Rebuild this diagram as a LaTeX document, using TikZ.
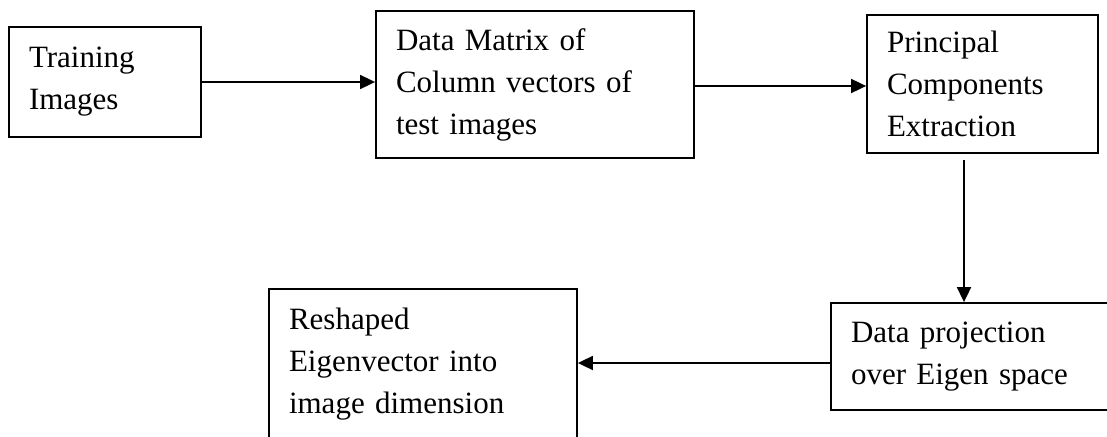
\documentclass[tikz,border=0pt]{standalone}
\usepackage{fontspec}
\setmainfont{Liberation Serif}
\usetikzlibrary{arrows.meta}

\begin{document}
\begin{tikzpicture}[x=1pt,y=1pt,
        stage/.style={draw, line width=1.8pt, align=left, inner xsep=20pt, inner ysep=0pt,
            font=\fontsize{31}{42}\selectfont},
        flow/.style={line width=1.8pt, -{Triangle[length=15pt,width=14pt]}}]
    \useasboundingbox (0,0) rectangle (1107,-436);
    \clip (0,0) rectangle (1107,-436);
    % top row
    \node[stage, text width=152pt, minimum height=110pt] (train) at (105,-82) {Training\\Images};
    \node[stage, text width=278pt, minimum height=147pt] (matrix) at (535,-84.5) {Data Matrix of\\Column vectors of\\test images};
    \node[stage, text width=191pt, minimum height=138pt] (pca) at (982.5,-84) {Principal\\Components\\Extraction};
    % bottom row
    \node[stage, text width=250pt, minimum height=107pt] (proj) at (976,-356.5) {Data projection\\over Eigen space};
    \node[stage, text width=268pt, minimum height=150pt] (reshape) at (423,-364) {Reshaped\\Eigenvector into\\image dimension};
    \coordinate (drop) at (964,-160);
    % arrows
    \draw[flow] (train.east) -- (train.east -| matrix.west);
    \draw[flow] ([yshift=-1.5pt]matrix.east) -- ([yshift=-1.5pt]matrix.east -| pca.west);
    \draw[flow] (drop) -- (drop |- proj.north);
    \draw[flow] ([yshift=-6.5pt]proj.west) -- ([yshift=-6.5pt]proj.west -| reshape.east);
\end{tikzpicture}
\end{document}
